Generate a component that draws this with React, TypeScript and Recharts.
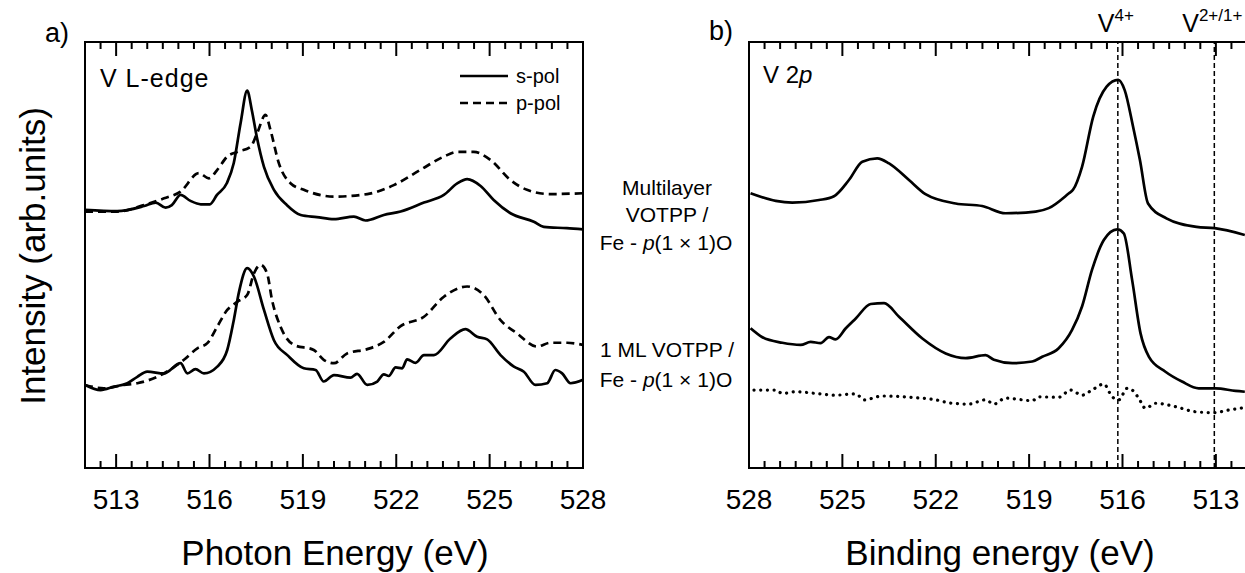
import React from "react";
import {
  LineChart,
  Line,
  XAxis,
  YAxis,
  ReferenceArea,
  ReferenceLine,
} from "recharts";

type Pt = [number, number];

// energy (eV), intensity (arb. units, 0-100 of panel height)
const ENERGY_DOMAIN: [number, number] = [512, 528];
const MAJOR_TICKS = [513, 516, 519, 522, 525, 528];
const ALL_TICKS = [
  512, 512.5, 513, 513.5, 514, 514.5, 515, 515.5, 516, 516.5, 517, 517.5, 518,
  518.5, 519, 519.5, 520, 520.5, 521, 521.5, 522, 522.5, 523, 523.5, 524,
  524.5, 525, 525.5, 526, 526.5, 527, 527.5, 528,
];

// panel a) multilayer
const multiSPol: Pt[] = [
  [512.0, 60.6], [513.03, 60.3], [513.9, 61.5], [514.27, 62.3], [514.59, 61.1],
  [514.79, 61.7], [515.07, 64.1], [515.39, 62.7], [515.72, 61.9], [516.01, 61.9],
  [516.24, 64.1], [516.56, 66.9], [516.78, 71.6], [517.0, 81.0], [517.21, 88.6],
  [517.36, 84.0], [517.52, 77.7], [517.75, 70.7], [518.07, 65.3], [518.49, 61.7],
  [518.93, 59.4], [519.45, 58.9], [520.0, 58.4], [520.64, 59.0], [521.01, 58.1],
  [521.6, 59.4], [522.14, 60.2], [522.89, 62.3], [523.53, 64.1], [523.96, 66.8],
  [524.28, 67.8], [524.71, 66.2], [525.13, 62.9], [525.67, 59.8], [526.42, 57.8],
  [526.74, 56.6], [527.48, 56.3], [528.0, 56.0],
];
const multiPPol: Pt[] = [
  [512.0, 60.2], [513.03, 60.2], [513.89, 61.7], [514.54, 63.3], [515.07, 64.9],
  [515.66, 69.2], [515.98, 68.0], [516.25, 70.0], [516.57, 73.1], [516.89, 74.2],
  [517.32, 75.4], [517.53, 78.6], [517.8, 82.9], [517.96, 79.3], [518.23, 71.5],
  [518.61, 66.8], [519.03, 65.3], [520.0, 63.7], [521.07, 64.3], [521.92, 66.4],
  [522.78, 70.0], [523.53, 73.1], [523.96, 74.2], [524.49, 74.2], [525.03, 72.3],
  [525.67, 67.6], [526.2, 65.3], [526.95, 64.3], [528.0, 64.5],
];

// panel a) 1 ML
const monoSPol: Pt[] = [
  [512.0, 19.5], [512.5, 18.3], [512.93, 19.1], [513.36, 19.9], [513.68, 21.4],
  [514.0, 22.6], [514.54, 22.2], [515.07, 24.6], [515.29, 22.2], [515.55, 23.2],
  [515.82, 22.2], [516.25, 23.8], [516.57, 27.7], [516.78, 34.7], [516.95, 41.4],
  [517.21, 46.9], [517.43, 44.9], [517.75, 37.1], [518.07, 30.0], [518.5, 26.5],
  [519.03, 23.4], [519.41, 23.0], [519.67, 20.3], [520.0, 21.8], [520.53, 21.2],
  [520.74, 22.1], [521.07, 19.5], [521.39, 20.3], [521.6, 22.0], [521.76, 21.6],
  [521.98, 23.6], [522.19, 23.4], [522.35, 25.5], [522.62, 24.7], [522.89, 26.5],
  [523.21, 26.5], [523.74, 30.4], [524.22, 32.6], [524.6, 30.8], [524.92, 30.2],
  [525.35, 26.5], [525.78, 23.8], [526.1, 22.6], [526.47, 19.5], [526.85, 19.9],
  [527.11, 23.0], [527.33, 22.2], [527.6, 19.9], [528.0, 20.7],
];
const monoPPol: Pt[] = [
  [512.0, 19.5], [512.61, 18.7], [513.25, 19.5], [513.68, 19.9], [514.32, 21.4],
  [515.18, 25.4], [515.61, 28.1], [515.93, 29.3], [516.25, 33.2], [516.57, 37.1],
  [516.89, 39.0], [517.21, 40.6], [517.43, 45.7], [517.64, 47.7], [517.85, 45.7],
  [518.01, 39.4], [518.28, 33.2], [518.71, 28.9], [519.35, 27.7], [519.67, 25.4],
  [520.0, 24.6], [520.42, 26.9], [521.07, 27.9], [521.6, 29.6], [522.14, 33.3],
  [522.89, 35.5], [523.53, 40.2], [524.28, 42.6], [524.81, 40.6], [525.35, 34.7],
  [525.88, 31.6], [526.52, 28.5], [526.95, 29.4], [527.49, 29.4], [528.0, 28.9],
];

// panel b) V 2p
const xpsMulti: Pt[] = [
  [527.95, 64.5], [527.14, 62.7], [526.61, 62.3], [525.75, 62.9], [525.27, 63.8],
  [524.79, 67.6], [524.36, 71.9], [523.88, 72.7], [523.5, 71.5], [522.86, 67.6],
  [522.33, 64.3], [521.36, 62.1], [520.51, 61.5], [519.76, 59.8], [518.79, 60.2],
  [518.37, 61.0], [517.72, 64.5], [517.59, 65.3], [517.3, 70.7], [516.94, 82.5],
  [516.51, 89.5], [516.14, 91.1], [515.93, 88.7], [515.66, 80.1], [515.44, 72.3],
  [515.18, 62.1], [514.59, 58.6], [513.62, 56.6], [513.04, 56.3], [512.07, 54.7],
];
const xpsMono: Pt[] = [
  [527.95, 32.8], [527.57, 30.7], [526.93, 29.4], [526.34, 28.9], [526.02, 29.6],
  [525.7, 29.3], [525.43, 30.7], [525.22, 30.2], [524.89, 32.8], [524.57, 35.1],
  [524.09, 38.5], [523.66, 38.7], [523.18, 35.5], [522.43, 30.4], [521.68, 26.9],
  [521.04, 25.8], [520.4, 26.5], [520.13, 25.4], [519.54, 24.6], [518.9, 25.0],
  [518.58, 26.1], [518.05, 28.1], [517.62, 32.4], [517.3, 37.9], [516.98, 46.5],
  [516.6, 53.5], [516.17, 56.0], [515.96, 55.1], [515.69, 44.1], [515.42, 31.6],
  [515.15, 26.1], [514.62, 22.6], [514.09, 20.3], [513.55, 18.7], [513.01, 18.7],
  [512.37, 18.1], [512.07, 17.9],
];
const xpsBare: Pt[] = [
  [527.84, 18.3], [527.14, 18.3], [526.93, 17.5], [526.5, 17.9], [525.86, 17.5],
  [525.22, 17.1], [524.57, 17.4], [524.3, 16.0], [523.72, 16.9], [522.65, 16.5],
  [522.0, 16.0], [521.58, 15.3], [520.94, 15.0], [520.4, 16.0], [520.13, 15.0],
  [519.76, 16.4], [518.9, 15.8], [518.69, 16.7], [518.05, 16.6], [517.67, 18.3],
  [517.3, 17.1], [516.98, 18.3], [516.6, 19.7], [516.33, 16.7], [516.12, 16.0],
  [515.85, 18.7], [515.69, 18.3], [515.48, 16.4], [515.26, 14.0], [514.94, 15.2],
  [514.3, 14.4], [513.66, 13.2], [513.07, 13.0], [512.59, 13.6], [512.07, 14.2],
];

const OXIDATION_LINES = [
  { e: 516.15, base: "V", sup: "4+" },
  { e: 513.05, base: "V", sup: "2+/1+" },
];

const FONT = '"Liberation Sans", Arial, Helvetica, sans-serif';
const PLOT_H = 426; // plot area 42..468
const toData = (pts: Pt[]) => pts.map(([e, v]) => ({ e, v }));

// draws the inward tick on the bottom axis, its mirror on the top axis, and the label
function EnergyTick(props: any) {
  const { x, y, payload } = props;
  const major = MAJOR_TICKS.includes(payload.value);
  const len = major ? 14 : 7;
  return (
    <g>
      <line x1={x} x2={x} y1={y} y2={y - len} stroke="#000" strokeWidth={2} />
      <line x1={x} x2={x} y1={y - PLOT_H} y2={y - PLOT_H + len} stroke="#000" strokeWidth={2} />
      {major && (
        <text x={x} y={y + 41} textAnchor="middle" fontSize={28} fill="#000">
          {payload.value}
        </text>
      )}
    </g>
  );
}

function OxLabel({ viewBox, base, sup }: any) {
  const top = Math.min(viewBox.y, viewBox.y + (viewBox.height || 0));
  return (
    <text x={viewBox.x - 2} y={top - 10} textAnchor="middle" fill="#000" fontSize={25}>
      {base}
      <tspan fontSize={17} dy={-11}>
        {sup}
      </tspan>
    </text>
  );
}

type Series = { pts: Pt[]; dash?: string; dotted?: boolean };

function Panel({
  left,
  marginLeft,
  marginRight,
  reversed,
  series,
  children,
}: {
  left: number;
  marginLeft: number;
  marginRight: number;
  reversed?: boolean;
  series: Series[];
  children?: React.ReactNode;
}) {
  // bottom axis is 1px tall (a 0px axis is not drawn); plot spans y 42..468
  return (
    <div style={{ position: "absolute", left, top: 0 }}>
      <LineChart
        width={640}
        height={573}
        margin={{ top: 42, right: marginRight, bottom: 104, left: marginLeft }}
      >
        <XAxis
          dataKey="e"
          type="number"
          domain={ENERGY_DOMAIN}
          allowDataOverflow
          reversed={reversed}
          ticks={ALL_TICKS}
          interval={0}
          height={1}
          tickSize={0}
          tickMargin={0}
          tickLine={false}
          axisLine={false}
          tick={EnergyTick}
        />
        <YAxis hide domain={[0, 100]} allowDataOverflow />
        <ReferenceArea
          x1={512}
          x2={528}
          y1={0}
          y2={100}
          fill="none"
          fillOpacity={0}
          stroke="#000"
          strokeWidth={2}
        />
        {children}
        {series.map((s, i) => (
          <Line
            key={i}
            data={toData(s.pts)}
            dataKey="v"
            type="monotone"
            stroke="#000"
            strokeWidth={s.dotted ? 3.2 : 2.7}
            strokeDasharray={s.dotted ? "0.1 6.6" : s.dash}
            strokeLinecap={s.dotted ? "round" : "butt"}
            dot={false}
            activeDot={false}
            isAnimationActive={false}
          />
        ))}
      </LineChart>
    </div>
  );
}

export default function App() {
  return (
    <div
      style={{
        position: "absolute",
        left: 0,
        top: 0,
        width: 1245,
        height: 573,
        overflow: "hidden",
        background: "#fff",
        fontFamily: FONT,
        color: "#000",
      }}
    >
      <Panel
        left={0}
        marginLeft={85}
        marginRight={57}
        series={[
          { pts: multiPPol, dash: "8 5" },
          { pts: multiSPol },
          { pts: monoPPol, dash: "8 5" },
          { pts: monoSPol },
        ]}
      />
      <Panel
        left={660}
        marginLeft={89}
        marginRight={53}
        reversed
        series={[{ pts: xpsMulti }, { pts: xpsMono }, { pts: xpsBare, dotted: true }]}
      >
        {OXIDATION_LINES.map((o) => (
          <ReferenceLine
            key={o.sup}
            x={o.e}
            stroke="#000"
            strokeWidth={1.5}
            strokeDasharray="5 3"
            label={(p: any) => <OxLabel {...p} base={o.base} sup={o.sup} />}
          />
        ))}
      </Panel>

      <svg
        width={1245}
        height={573}
        style={{ position: "absolute", left: 0, top: 0, pointerEvents: "none" }}
        fontFamily={FONT}
      >
        <text x={45} y={42} fontSize={27}>a)</text>
        <text x={709} y={40} fontSize={27}>b)</text>

        <text x={45} y={256} fontSize={35} textAnchor="middle" transform="rotate(-90 45 256)">
          Intensity (arb.units)
        </text>
        <text x={335} y={565} fontSize={35} textAnchor="middle">Photon Energy (eV)</text>
        <text x={1000} y={565} fontSize={35} textAnchor="middle">Binding energy (eV)</text>

        <text x={100} y={87} fontSize={25} letterSpacing={1}>V L-edge</text>
        <text x={763} y={83} fontSize={24}>
          V 2<tspan fontStyle="italic">p</tspan>
        </text>

        <line x1={460} x2={508} y1={76} y2={76} stroke="#000" strokeWidth={2.7} />
        <text x={516} y={83} fontSize={20}>s-pol</text>
        <line x1={460} x2={508} y1={103} y2={103} stroke="#000" strokeWidth={2.7} strokeDasharray="8 5" />
        <text x={516} y={110} fontSize={20}>p-pol</text>

        <g fontSize={21} textAnchor="middle">
          <text x={667} y={195}>Multilayer</text>
          <text x={667} y={222}>VOTPP /</text>
          <text x={666} y={250}>
            Fe - <tspan fontStyle="italic">p</tspan>(1 × 1)O
          </text>
          <text x={667} y={357}>1 ML VOTPP /</text>
          <text x={666} y={387}>
            Fe - <tspan fontStyle="italic">p</tspan>(1 × 1)O
          </text>
        </g>
      </svg>
    </div>
  );
}
